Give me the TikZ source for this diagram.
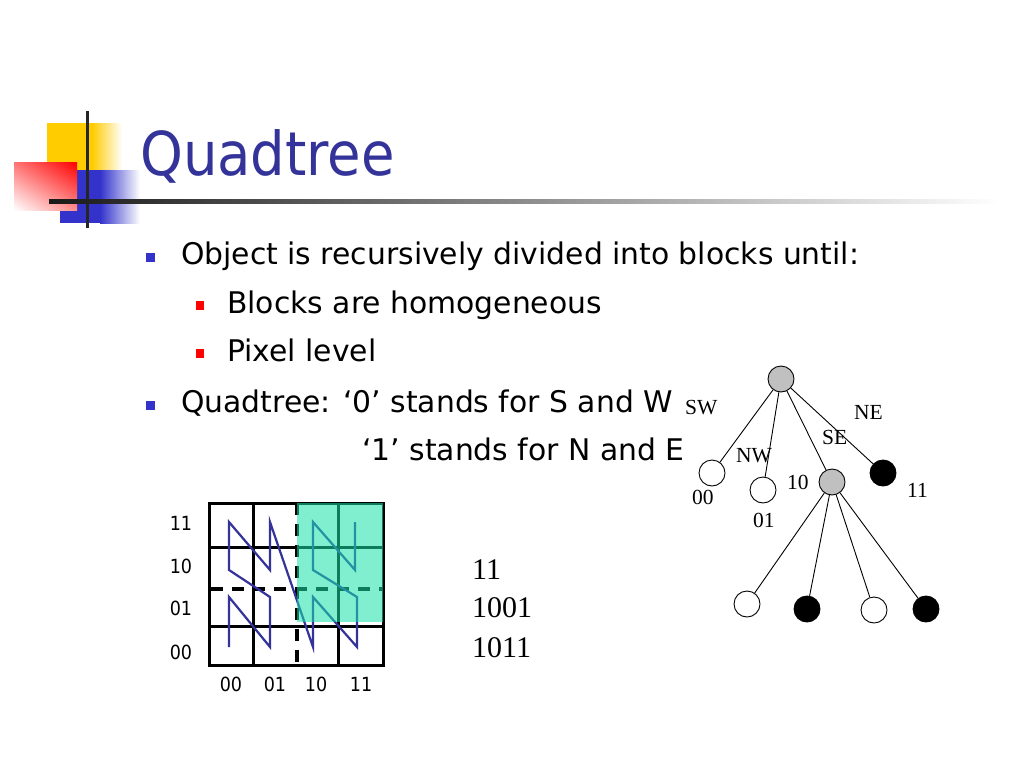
\documentclass[tikz,border=0pt]{standalone}
\usepackage{fontspec}
\usetikzlibrary{shadings}
\setmainfont{Liberation Serif}
\newfontfamily\tah{DejaVu Sans Condensed}
\newfontfamily\verd{DejaVu Sans}
\definecolor{ttl}{HTML}{333399}
\definecolor{bblue}{HTML}{3333CC}
\definecolor{zz}{HTML}{333399}
\definecolor{aqua}{rgb}{0.09,0.89,0.67}
\definecolor{ylw}{HTML}{FFCC00}
\definecolor{nodegray}{HTML}{C0C0C0}
\tikzset{
  body/.style={anchor=base west,inner sep=0pt,font=\verd\fontsize{29.8}{29.8}\selectfont},
  axlab/.style={anchor=base,inner sep=0pt,font=\tah\fontsize{19.5}{19.5}\selectfont},
  code/.style={anchor=base west,inner sep=0pt,font=\fontsize{30}{30}\selectfont},
  tlab/.style={anchor=base west,inner sep=0pt,font=\fontsize{21.5}{21.5}\selectfont},
  wnode/.style={circle,draw,line width=0.9pt,fill=white,minimum size=26pt,inner sep=0pt},
  gnode/.style={wnode,fill=nodegray},
  bnode/.style={wnode,fill=black},
  edge/.style={line width=0.9pt},
  gridl/.style={line width=3pt},
  gridd/.style={line width=4pt,dash pattern=on 12pt off 9pt},
  zig/.style={draw=zz,line width=2.2pt,line join=miter},
}
\begin{document}
\begin{tikzpicture}[x=1pt,y=-1pt]
\useasboundingbox[fill=white] (0,0) rectangle (1024,768);
% logo
\fill[ylw] (47,123) rectangle (92,200);
\shade[left color=ylw,right color=white] (92,123) rectangle (122,200);
\fill[bblue] (60,170) rectangle (100,223);
\shade[left color=bblue,right color=white] (100,170) rectangle (140,223);
\shade[upper right=red,upper left=red!55,lower left=white,lower right=red!45] (14,162) rectangle (77,210);
\fill[black!85] (85.5,111) rectangle (88.5,228);
\shade[left color=black!90,right color=white,middle color=black!45] (49,199) rectangle (1000,203);
% title
\node[anchor=base west,inner sep=0pt,text=ttl,font=\tah\fontsize{60.5}{60.5}\selectfont] (title) at (140,175) {Quadtree};
% bullets
\fill[bblue] (146,253) rectangle (155,262);
\fill[red] (196,301) rectangle (204,310);
\fill[red] (196,349) rectangle (204,358);
\fill[bblue] (146,401) rectangle (155,410);
\node[body] (t1) at (181,264) {Object is recursively divided into blocks until:};
\node[body] (t2) at (227,313) {Blocks are homogeneous};
\node[body] (t3) at (227,361) {Pixel level};
\node[body] (t4) at (181,412) {Quadtree: ‘0’ stands for S and W};
\node[body] (t5) at (362,460) {‘1’ stands for N and E};
% grid
\draw[gridl] (209,503) rectangle (383,665);
\draw[gridl] (253,503) -- (253,665);
\draw[gridl] (338,503) -- (338,665);
\draw[gridl] (209,547) -- (383,547);
\draw[gridl] (209,626) -- (383,626);
\draw[gridd] (297,503) -- (297,665);
\draw[gridd] (211,589) -- (383,589);
\draw[zig] (229,647) -- (229,597) -- (270,647) -- (270,597) -- (229,570) -- (229,522) -- (270,570) -- (270,522)
  -- (313,647) -- (313,597) -- (357,647) -- (357,597) -- (313,570) -- (313,522) -- (355,570) -- (355,522);
\fill[aqua,opacity=0.55] (297,503) rectangle (383,622);
\node[axlab] (r11) at (181,530) {11};
\node[axlab] (r10) at (181,573) {10};
\node[axlab] (r01) at (181,615) {01};
\node[axlab] (r00) at (181,659) {00};
\node[axlab] (c00) at (231,691) {00};
\node[axlab] (c01) at (275,691) {01};
\node[axlab] (c10) at (316,691) {10};
\node[axlab] (c11) at (361,691) {11};
% codes
\node[code] (k1) at (472,579) {11};
\node[code] (k2) at (472,617) {1001};
\node[code] (k3) at (472,657) {1011};
% tree
\node[gnode] (root) at (781,379) {};
\node[wnode] (n00) at (712,473) {};
\node[wnode] (n01) at (763,490) {};
\node[gnode] (n10) at (832,482) {};
\node[bnode] (n11) at (883,473) {};
\node[wnode] (m1) at (747,604) {};
\node[bnode] (m2) at (807,609) {};
\node[wnode] (m3) at (874,610) {};
\node[bnode] (m4) at (926,609) {};
\draw[edge] (root) -- (n00);
\draw[edge] (root) -- (n01);
\draw[edge] (root) -- (n10);
\draw[edge] (root) -- (n11);
\draw[edge] (n10) -- (m1);
\draw[edge] (n10) -- (m2);
\draw[edge] (n10) -- (m3);
\draw[edge] (n10) -- (m4);
\node[tlab] (lsw) at (685,414) {SW};
\node[tlab] (lne) at (854,419) {NE};
\node[tlab] (lse) at (822,444) {SE};
\node[tlab] (lnw) at (736,462) {NW};
\node[tlab] (l10) at (787,489) {10};
\node[tlab] (l11) at (907,497) {11};
\node[tlab] (l00) at (692,504) {00};
\node[tlab] (l01) at (753,527) {01};
\end{tikzpicture}
\end{document}
